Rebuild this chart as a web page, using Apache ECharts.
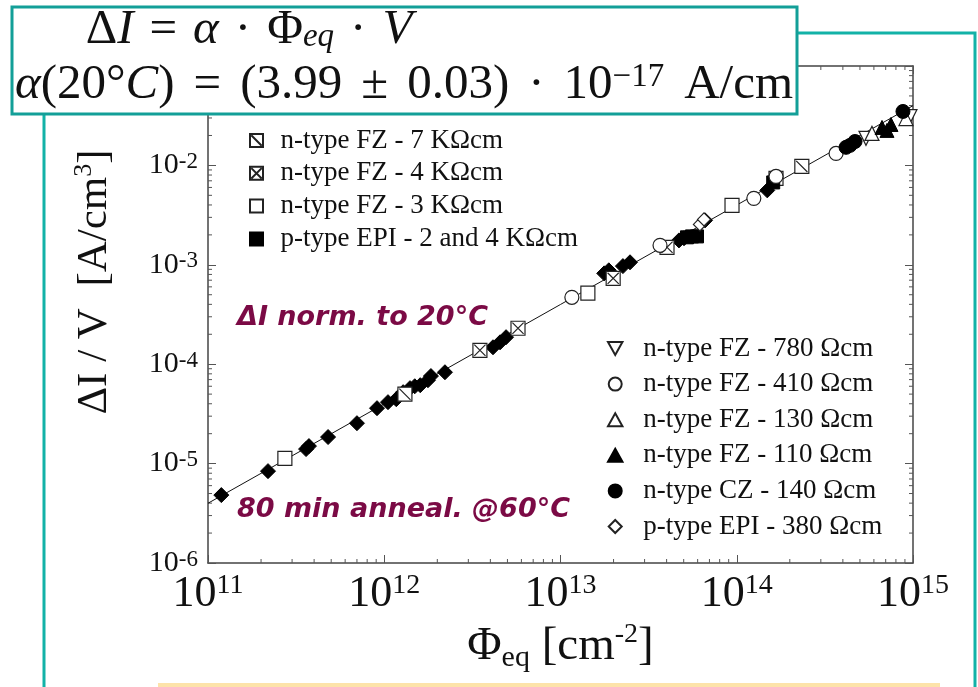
<!DOCTYPE html>
<html>
<head>
<meta charset="utf-8">
<script src="https://cdn.jsdelivr.net/npm/echarts@6/dist/echarts.min.js"></script>
<style>
  html, body { margin: 0; padding: 0; background: #ffffff; }
  #chart { width: 978px; height: 687px; }
</style>
</head>
<body>
<div id="chart"></div>
<script>
// Fluence Φeq [cm^-2] and leakage current per volume ΔI/V [A/cm^3], per material
const fzDiamond = [
  [1.19e11, 4.82e-6], [2.19e11, 8.4e-6], [3.60e11, 1.40e-5], [3.74e11, 1.50e-5],
  [4.80e11, 1.85e-5], [7.0e11, 2.55e-5], [9.1e11, 3.61e-5], [1.05e12, 4.15e-5],
  [1.17e12, 4.45e-5], [1.28e12, 5.23e-5], [1.40e12, 5.74e-5], [1.49e12, 6.0e-5],
  [1.60e12, 6.15e-5], [1.77e12, 6.9e-5], [1.84e12, 7.6e-5], [2.21e12, 8.3e-5],
  [4.14e12, 1.48e-4], [4.54e12, 1.66e-4], [4.91e12, 1.87e-4], [1.77e13, 8.2e-4],
  [1.88e13, 8.8e-4], [2.26e13, 9.7e-4], [2.48e13, 1.06e-3], [4.70e13, 1.76e-3],
  [5.02e13, 1.85e-3], [6.61e13, 2.80e-3], [1.49e14, 5.61e-3]
];
const fz7k = [[1.31e12, 4.99e-5], [2.34e14, 9.77e-3]];
const fz4k = [[3.49e12, 1.38e-4], [5.74e12, 2.30e-4], [1.99e13, 7.31e-4], [4.02e13, 1.50e-3]];
const fz3k = [[2.73e11, 1.13e-5], [1.43e13, 5.18e-4], [9.40e13, 3.96e-3], [1.67e14, 7.39e-3]];
const epi2k4k = [[5.22e13, 1.89e-3], [5.57e13, 1.93e-3], [5.95e13, 1.93e-3], [1.61e14, 6.74e-3]];
const fz780 = [[5.41e14, 1.87e-2], [9.61e14, 3.10e-2]];
const fz410 = [[1.16e13, 4.71e-4], [3.67e13, 1.57e-3], [1.25e14, 4.66e-3], [1.67e14, 7.74e-3], [3.66e14, 1.32e-2]];
const fz130 = [[5.85e14, 2.10e-2], [9.12e14, 2.96e-2]];
const fz110 = [[6.67e14, 2.41e-2], [7.12e14, 2.25e-2], [7.50e14, 2.58e-2]];
const cz140 = [[4.17e14, 1.52e-2], [4.39e14, 1.59e-2], [4.69e14, 1.74e-2], [8.77e14, 3.49e-2]];
const epi380 = [[6.18e13, 2.55e-3], [6.52e13, 2.86e-3]];

// Current-related damage rate α(20°C) in A/cm, and the fluence span of the fit
const fitAlpha = 3.99e-17;
const fitRange = [1e11, 1e15];

// Axis ranges (decades)
const xRange = [1e11, 1e15];
const yRange = [1e-6, 1e-1];

// Legend entries
const legendUpper = ['n-type FZ - 7 KΩcm', 'n-type FZ - 4 KΩcm', 'n-type FZ - 3 KΩcm', 'p-type EPI - 2 and 4 KΩcm'];
const legendLower = ['n-type FZ - 780 Ωcm', 'n-type FZ - 410 Ωcm', 'n-type FZ - 130 Ωcm',
                     'n-type FZ - 110 Ωcm', 'n-type CZ - 140 Ωcm', 'p-type EPI - 380 Ωcm'];

const fitLine = fitRange.map(phi => [phi, fitAlpha * phi]);

// Log-spaced minor tick values (2..9 within each decade)
function minorValues(lo, hi) {
  const out = [];
  for (let e = Math.round(Math.log10(lo)); e < Math.round(Math.log10(hi)); e++) {
    for (let k = 2; k <= 9; k++) out.push(k * Math.pow(10, e));
  }
  return out;
}
const xMinor = minorValues(xRange[0], xRange[1]).map(v => [v, yRange[0]]);
const yMinor = minorValues(yRange[0], yRange[1]).map(v => [xRange[0], v]);

const SERIF = '"Liberation Serif", "Times New Roman", serif';
const INK = '#111';
const TICK = '#555';

// marker outlines as paths so legend icons keep their aspect
const SYM_SQUARE = 'path://M0,0L10,0L10,10L0,10Z';
const SYM_DIAG = 'path://M0,0L10,0L10,10L0,10Z M1,1L9,9';
const SYM_CROSS = 'path://M0,0L10,0L10,10L0,10Z M1,1L9,9 M9,1L1,9';
const SYM_DOWN = 'path://M0,0L10,0L5,9Z';
const SYM_UP = 'path://M5,0L10,9L0,9Z';
const SYM_DIAMOND = 'path://M5,0L10,5L5,10L0,5Z';

const openStyle = { color: '#fff', borderColor: '#222', borderWidth: 1.2, opacity: 1 };
const filledStyle = { color: '#000', borderColor: '#000', borderWidth: 1, opacity: 1 };

function scatter(name, data, symbol, size, style) {
  return {
    name, type: 'scatter', data, symbol, symbolSize: size,
    itemStyle: style, xAxisIndex: 0, yAxisIndex: 0, z: 3, silent: true
  };
}

function powLabel(v) {
  const e = Math.round(Math.log10(v));
  return '{b|10}{s|' + e + '}';
}

function minorTickRenderer(horizontal) {
  return function (params, api) {
    const len = 4;
    const style = { stroke: TICK, lineWidth: 1 };
    if (horizontal) {
      const v = api.value(0);
      const b = api.coord([v, yRange[0]]);
      const t = api.coord([v, yRange[1]]);
      return { type: 'group', children: [
        { type: 'line', shape: { x1: b[0], y1: b[1], x2: b[0], y2: b[1] - len }, style },
        { type: 'line', shape: { x1: t[0], y1: t[1], x2: t[0], y2: t[1] + len }, style }
      ]};
    }
    const v = api.value(1);
    const l = api.coord([xRange[0], v]);
    const r = api.coord([xRange[1], v]);
    return { type: 'group', children: [
      { type: 'line', shape: { x1: l[0], y1: l[1], x2: l[0] + len, y2: l[1] }, style },
      { type: 'line', shape: { x1: r[0], y1: r[1], x2: r[0] - len, y2: r[1] }, style }
    ]};
  };
}

const axisCommon = {
  type: 'log', logBase: 10, interval: 1,
  axisLine: { show: true, lineStyle: { color: '#444', width: 1.5 } },
  axisTick: { show: true, inside: true, length: 8, lineStyle: { color: TICK, width: 1 } },
  splitLine: { show: false }
};

const legendText = { fontFamily: SERIF, fontSize: 27, lineHeight: 26, color: INK };

const chart = echarts.init(document.getElementById('chart'), null, { renderer: 'canvas' });

chart.setOption({
  animation: false,
  backgroundColor: '#ffffff',
  grid: { left: 208, right: 65, top: 66, bottom: 124 },
  xAxis: [
    Object.assign({}, axisCommon, {
      min: xRange[0], max: xRange[1], position: 'bottom',
      axisLabel: {
        margin: 9, formatter: powLabel, color: INK,
        rich: {
          b: { fontFamily: SERIF, fontSize: 44, lineHeight: 44, color: INK },
          s: { fontFamily: SERIF, fontSize: 28, lineHeight: 22, verticalAlign: 'top', color: INK }
        }
      },
      name: '{p|Φ}{sub|eq}{p| [cm}{sup|-2}{p|]}',
      nameLocation: 'middle', nameGap: 50,
      nameTextStyle: {
        rich: {
          p: { fontFamily: SERIF, fontSize: 47, lineHeight: 52, color: INK },
          sub: { fontFamily: SERIF, fontSize: 30, lineHeight: 30, verticalAlign: 'bottom', color: INK },
          sup: { fontFamily: SERIF, fontSize: 28, lineHeight: 26, verticalAlign: 'top', color: INK }
        }
      }
    }),
    Object.assign({}, axisCommon, {
      min: xRange[0], max: xRange[1], position: 'top',
      axisLabel: { show: false }
    })
  ],
  yAxis: [
    Object.assign({}, axisCommon, {
      min: yRange[0], max: yRange[1], position: 'left',
      axisLabel: {
        margin: 10, formatter: powLabel, color: INK, showMaxLabel: false,
        rich: {
          b: { fontFamily: SERIF, fontSize: 30, lineHeight: 30, color: INK },
          s: { fontFamily: SERIF, fontSize: 23, lineHeight: 14, verticalAlign: 'top', color: INK }
        }
      }
    }),
    Object.assign({}, axisCommon, {
      min: yRange[0], max: yRange[1], position: 'right',
      axisLabel: { show: false }
    })
  ],
  legend: [
    {
      data: legendUpper, orient: 'vertical', left: 244, top: 122,
      itemWidth: 38, itemHeight: 13, itemGap: 5.8, selectedMode: false,
      textStyle: legendText
    },
    {
      data: legendLower, orient: 'vertical', left: 602, top: 330,
      itemWidth: 46, itemHeight: 13, itemGap: 8.6, selectedMode: false,
      textStyle: legendText
    }
  ],
  series: [
    {
      name: 'fit', type: 'line', data: fitLine, symbol: 'none', silent: true,
      lineStyle: { color: '#111', width: 1 }, z: 2
    },
    scatter('n-type FZ', fzDiamond, SYM_DIAMOND, 15, filledStyle),
    scatter(legendUpper[0], fz7k, SYM_DIAG, 14, openStyle),
    scatter(legendUpper[1], fz4k, SYM_CROSS, 14, openStyle),
    scatter(legendUpper[2], fz3k, SYM_SQUARE, 14, openStyle),
    scatter(legendUpper[3], epi2k4k, SYM_SQUARE, 13, filledStyle),
    scatter(legendLower[0], fz780, SYM_DOWN, 14, openStyle),
    scatter(legendLower[1], fz410, 'circle', 14, openStyle),
    scatter(legendLower[2], fz130, SYM_UP, 14, openStyle),
    scatter(legendLower[3], fz110, SYM_UP, 14, filledStyle),
    scatter(legendLower[4], cz140, 'circle', 14, filledStyle),
    scatter(legendLower[5], epi380, SYM_DIAMOND, 13, openStyle),
    {
      type: 'custom', data: xMinor, renderItem: minorTickRenderer(true),
      silent: true, clip: false, z: 1
    },
    {
      type: 'custom', data: yMinor, renderItem: minorTickRenderer(false),
      silent: true, clip: false, z: 1
    }
  ],
  graphic: [
    // surrounding slide frame
    { type: 'polyline', z: 90, shape: { points: [[44, 114], [44, 687]] },
      style: { stroke: '#12b2a7', lineWidth: 3, fill: null } },
    { type: 'polyline', z: 90, shape: { points: [[797, 33], [975, 33], [975, 687]] },
      style: { stroke: '#12b2a7', lineWidth: 3, fill: null } },
    { type: 'rect', z: 90, shape: { x: 158, y: 683, width: 782, height: 4 },
      style: { fill: '#fde3aa' } },
    // y axis title
    { type: 'text', z: 95, x: 95, y: 282, rotation: Math.PI / 2,
      style: {
        text: '{p|ΔI / V  [A/cm}{sup|3}{p|]}', align: 'center', verticalAlign: 'middle',
        rich: {
          p: { fontFamily: SERIF, fontSize: 43, lineHeight: 48, fill: INK },
          sup: { fontFamily: SERIF, fontSize: 26, lineHeight: 26, verticalAlign: 'top', fill: INK }
        }
      } },
    // annotations
    { type: 'text', z: 95, x: 237, y: 318,
      style: { text: 'ΔI norm. to 20°C', fill: '#7b0a45', align: 'left', verticalAlign: 'middle',
               font: 'italic bold 27px "DejaVu Sans", sans-serif' } },
    { type: 'text', z: 95, x: 237, y: 510,
      style: { text: '80 min anneal. @60°C', fill: '#7b0a45', align: 'left', verticalAlign: 'middle',
               font: 'italic bold 27px "DejaVu Sans", sans-serif' } },
    // formula box
    { type: 'rect', z: 100, shape: { x: 12, y: 7, width: 785, height: 107 },
      style: { fill: '#ffffff', stroke: '#139f98', lineWidth: 3 } },
    { type: 'text', z: 101, x: 249, y: 30,
      style: {
        text: '{r|Δ}{i|I}{op|=}{i|α}{op|·}{r|Φ}{sub|eq}{op|·}{i|V}',
        align: 'center', verticalAlign: 'middle',
        rich: {
          r: { fontFamily: SERIF, fontSize: 49, lineHeight: 48, fill: INK },
          i: { fontFamily: SERIF, fontStyle: 'italic', fontSize: 49, lineHeight: 48, fill: INK },
          op: { fontFamily: SERIF, fontSize: 49, lineHeight: 48, padding: [0, 16, 0, 16], fill: INK },
          sub: { fontFamily: SERIF, fontStyle: 'italic', fontSize: 33, lineHeight: 28, verticalAlign: 'bottom', fill: INK }
        }
      } },
    { type: 'text', z: 101, x: 404, y: 85,
      style: {
        text: '{i|α}{r|(20°}{i|C}{r|)}{op|=}{r|(3.99}{op|±}{r|0.03)}{op|·}{r|10}{sup|−17}{u|A/cm}',
        align: 'center', verticalAlign: 'middle',
        rich: {
          r: { fontFamily: SERIF, fontSize: 49, lineHeight: 48, fill: INK },
          i: { fontFamily: SERIF, fontStyle: 'italic', fontSize: 49, lineHeight: 48, fill: INK },
          op: { fontFamily: SERIF, fontSize: 49, lineHeight: 48, padding: [0, 19, 0, 19], fill: INK },
          u: { fontFamily: SERIF, fontSize: 49, lineHeight: 48, padding: [0, 0, 0, 20], fill: INK },
          sup: { fontFamily: SERIF, fontSize: 33, lineHeight: 26, verticalAlign: 'top', fill: INK }
        }
      } }
  ]
});
</script>
</body>
</html>
